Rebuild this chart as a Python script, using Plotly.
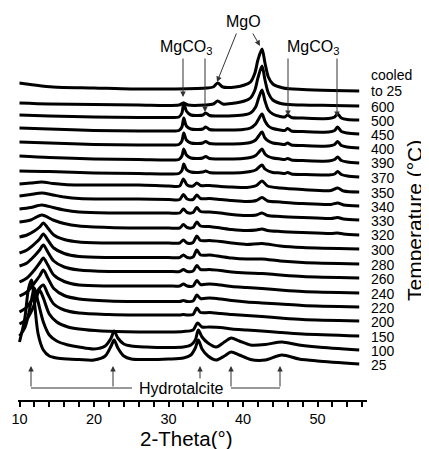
import plotly.graph_objects as go

# ---------------- data ----------------
temps = ["cooled<br>to 25", "600", "500", "450", "400", "390", "370", "350", "340",
         "330", "320", "300", "280", "260", "240", "220", "200", "150", "100", "25"]
# stacking level of each pattern (distance of its high-angle end from the top, px-units)
stack = [91, 106, 120, 134, 148, 163, 177, 192, 206, 220, 235, 249, 264, 278, 293,
         307, 321, 336, 350, 364]

tt_cooled = [10, 12, 14.5, 20, 25, 30, 35, 36.0, 36.6, 37.3, 39.0, 40.2, 41.0, 41.6, 42.0,
             42.55, 42.95, 43.4, 44.0, 45.4, 48, 52, 55.6]
i_cooled = [8, 6, 4, 3, 2, 2, 3, 4, 8, 4, 4, 6, 9, 18, 31, 42, 28, 14, 7, 3, 1.5, 0.5, 0]

tt_600 = [10, 14, 20, 26, 31.4, 32.0, 32.6, 35, 36.0, 36.6, 37.3, 39.0, 40.2, 41.0, 41.6,
          42.0, 42.55, 42.95, 43.4, 44.0, 45.4, 48, 52, 55.6]
i_600 = [3, 2, 1.5, 1, 1, 3, 1, 1, 2, 5, 2, 3, 5, 8, 16, 28, 40, 26, 13, 6, 2, 1, 0.5, 0]

tt_hi = [10, 14, 20, 26, 30, 31.4, 31.8, 32.05, 32.4, 33.0, 34.0, 34.6, 35.0, 35.5, 36.5,
         38.0, 40.0, 41.0, 41.7, 42.1, 42.55, 42.95, 43.4, 44.0, 45.0, 45.6, 46.0, 46.5,
         48, 51.5, 52.3, 52.7, 53.2, 54, 55.6]
i_500 = [5, 4, 3, 2.5, 2.5, 3, 7, 17, 9, 5, 4.5, 5, 7, 4.5, 4, 4, 5, 7, 13, 22, 30, 19, 10,
         6, 3.5, 3, 5, 2.5, 2, 1.5, 3, 6, 2, 0.5, 0]
i_450 = [6, 5, 3.5, 3, 3, 3.5, 7, 16, 8, 5, 4.5, 5, 7, 4.5, 4, 4, 4.5, 6, 10, 15, 20, 13, 8,
         5.5, 4, 3.5, 5.5, 3, 2.5, 2, 3.5, 7, 2.5, 1, 0]
i_400 = [6, 5, 3.5, 3, 3, 3.5, 7, 15, 8, 5, 4.5, 5, 6.5, 4.5, 4, 4, 4.5, 5.5, 8, 12, 16, 10,
         7, 5, 4, 3.5, 5, 3, 2.5, 2, 3.5, 6.5, 2.5, 1, 0]
i_390 = [7, 5.5, 4, 3.5, 3, 3.5, 7, 14, 8, 5, 4.5, 5, 6.5, 4.5, 4, 4, 4.5, 5.5, 7.5, 10.5,
         14, 9, 6.5, 5, 4, 3.5, 4.5, 3, 2.5, 2, 3.5, 6, 2.5, 1, 0]
i_370 = [6, 5.5, 4, 3.5, 3, 3.5, 6.5, 13, 7.5, 5, 4.5, 5, 6, 4.5, 4, 4, 4.5, 5.5, 7, 9.5,
         12, 8, 6, 4.5, 4, 3.5, 4.5, 3, 2.5, 2, 3, 5.5, 2.5, 1, 0]

tt_mid = [10, 11.5, 13.0, 14.5, 16, 18, 22, 26, 30, 31.5, 32.0, 32.5, 33.3, 33.8, 34.3,
          35.5, 37.0, 38.5, 40.5, 41.8, 42.55, 43.3, 45, 48, 51.8, 52.7, 53.5, 55.6]
i_350 = [8, 9, 10, 8.5, 7.5, 7, 7, 7, 6, 6, 13, 7, 6, 9, 6.5, 6.5, 5.5, 5, 4.5, 6.5, 11, 6,
         4, 2.5, 1.5, 4, 1, 0]
i_340 = [10, 11.5, 13, 11, 9, 7.5, 7, 7, 6.5, 6.5, 11.5, 7, 6.5, 11, 7.5, 7.5, 6.5, 5.5,
         4.5, 5.5, 8.5, 5, 4, 2.5, 1.5, 3, 1, 0]
i_330 = [11, 12.5, 15, 12.5, 10, 8, 7, 7, 7, 7, 11, 7.5, 7.5, 12.5, 8.5, 8, 7, 5.5, 4.5, 5,
         7, 4.5, 3.5, 2.5, 1.5, 2.5, 1, 0]
i_320 = [13, 15, 20, 15, 11.5, 9, 7.5, 7, 7, 7, 10.5, 7.5, 7.5, 13, 9, 8.5, 7, 5.5, 4.5, 5,
         6, 4.5, 3.5, 2.5, 1.5, 2, 1, 0]

tt_lm = [10, 11.0, 12.0, 12.7, 13.2, 13.8, 14.6, 16, 18, 22, 26, 30, 31.5, 32.0, 32.5,
         33.3, 33.8, 34.3, 35.5, 37.0, 38.5, 40.5, 42.55, 45, 48, 55.6]
i_300 = [12, 14, 18, 22, 26, 21, 14, 9.5, 7, 6, 6, 6, 6, 9, 6, 6.5, 13, 8.5, 8.5, 7.5, 6,
         4.5, 5.5, 3, 1.5, 0]
i_280 = [11, 14, 20, 25, 30, 24, 16, 10.5, 7.5, 6.5, 6.5, 6.5, 6.5, 9, 6.5, 7, 14, 9, 9,
         7.5, 6, 5, 5, 3, 1.5, 0]
i_260 = [12, 15, 22, 28, 33, 26, 17, 11, 8, 6.5, 6.5, 6.5, 6.5, 8.5, 6.5, 7, 12.5, 8.5,
         8.5, 7.5, 6, 5, 4.5, 3, 1.5, 0]
i_240 = [11, 15, 23, 30, 35, 28, 18, 11.5, 8, 7, 7, 7, 7, 9, 7, 7, 12.5, 8.5, 9, 8, 6.5,
         5.5, 4.5, 3, 1.5, 0]
i_220 = [11, 15, 24, 31, 37, 29, 18.5, 11.5, 8, 6, 5.5, 5.5, 5.5, 6.5, 5.5, 6, 12, 8.5, 9,
         8, 6.5, 5, 4, 3, 1.5, 0]
i_200 = [9, 14, 25, 33, 36, 27, 17, 11, 8, 6.5, 6, 6, 6, 6.5, 6, 6.5, 13, 8.5, 8.5, 7.5,
         6.5, 5.5, 4.5, 3, 1.5, 0]

tt_150 = [10, 11.0, 11.8, 12.3, 12.7, 13.2, 14.0, 15, 16.5, 18, 21, 26, 30, 32, 33.3,
          33.9, 34.5, 35.5, 37.0, 38.5, 40.5, 42.5, 45, 48, 55.6]
i_150 = [12, 17, 28, 39, 46, 38, 22, 14, 9, 7, 5, 4, 4, 4.5, 6, 13, 9, 9, 8.5, 7, 6, 5,
         3.5, 2, 0]

tt_low = [10, 10.7, 11.2, 11.6, 12.0, 12.5, 13.2, 14.0, 15, 16.5, 18, 20, 21.5, 22.3,
          22.7, 23.2, 24, 25, 27, 30, 32, 33.0, 33.6, 34.0, 34.5, 35.3, 36.4, 37.5, 38.4,
          39.5, 41, 43, 45.2, 47.5, 50, 55.6]
i_100 = [14, 22, 35, 50, 62, 48, 28, 15, 9, 5, 3, 1, 4, 12, 19, 12, 6, 4, 3, 2.5, 3, 5, 10,
         20, 13, 7, 3, 8, 12, 9, 5, 5.5, 8, 5, 3, 0]
i_25 = [22, 45, 75, 84, 62, 30, 14, 8, 6, 5, 4.5, 4, 8, 18, 24, 16, 8, 5, 4.5, 5, 6, 9, 16,
        24, 15, 8, 4, 8, 12, 9, 4.5, 4, 9, 5, 3, 0]

patterns = [(tt_cooled, i_cooled), (tt_600, i_600), (tt_hi, i_500), (tt_hi, i_450),
            (tt_hi, i_400), (tt_hi, i_390), (tt_hi, i_370), (tt_mid, i_350),
            (tt_mid, i_340), (tt_mid, i_330), (tt_mid, i_320), (tt_lm, i_300),
            (tt_lm, i_280), (tt_lm, i_260), (tt_lm, i_240), (tt_lm, i_220),
            (tt_lm, i_200), (tt_150, i_150), (tt_low, i_100), (tt_low, i_25)]

# ---------------- geometry helpers (layout only) ----------------
# page body has an 8px margin; figure is sized so the plot lands on the reference pixels
OFF = 8
PL, PR, PT, PB = 18, 367, 8, 400      # plot-area edges in page pixels
PX10, PXDEG = 19.5, 7.45
def X(px):
    return 10 + (px - PX10) / PXDEG
def Y(py):
    return 400 - py
def XP(px):
    return (px - PL) / (PR - PL)
def YP(py):
    return (PB - py) / (PB - PT)

FONT = "Liberation Sans, Arial, Helvetica, sans-serif"

fig = go.Figure()
for (tt, inten), s in zip(patterns, stack):
    base = 400 - s
    fig.add_trace(go.Scatter(x=tt, y=[base + v for v in inten], mode="lines",
                             line=dict(color="black", width=3, shape="spline",
                                       smoothing=0.8),
                             hoverinfo="skip"))

ann = []
# temperature labels
LBL = dict(size=14)
for t, s in zip(temps, stack):
    if "<br>" in t:
        l1, l2 = t.split("<br>")
        ann.append(dict(xref="paper", yref="paper", x=XP(369), y=YP(s - 16), text=l1,
                        xanchor="left", yanchor="middle", showarrow=False, font=LBL))
        ann.append(dict(xref="paper", yref="paper", x=XP(369), y=YP(s), text=l2,
                        xanchor="left", yanchor="middle", showarrow=False, font=LBL))
    else:
        ann.append(dict(xref="paper", yref="paper", x=XP(369), y=YP(s + 0.5), text=t,
                        xanchor="left", yanchor="middle", showarrow=False, font=LBL))

# phase labels
ann.append(dict(x=X(243), y=Y(21), text="MgO", showarrow=False, font=dict(size=16),
                xanchor="center", yanchor="middle"))
ann.append(dict(x=X(186), y=Y(47), text="MgCO<sub>3</sub>", showarrow=False,
                font=dict(size=16), xanchor="center", yanchor="middle"))
ann.append(dict(x=X(313), y=Y(47), text="MgCO<sub>3</sub>", showarrow=False,
                font=dict(size=16), xanchor="center", yanchor="middle"))
ann.append(dict(x=X(181), y=Y(388), text="Hydrotalcite", showarrow=False,
                font=dict(size=16), xanchor="center", yanchor="middle"))

# axis titles
ann.append(dict(xref="paper", yref="paper", x=XP(186), y=YP(438), text="2-Theta(°)",
                showarrow=False, font=dict(size=20.5), xanchor="center",
                yanchor="middle"))
ann.append(dict(xref="paper", yref="paper", x=XP(414), y=YP(221),
                text="Temperature (°C)", showarrow=False, textangle=-90,
                font=dict(size=21), xanchor="center", yanchor="middle"))

# arrows: (tail px, tip px)
arrows = [((237, 32), (217, 82)), ((252, 32), (260, 46)),
          ((183, 57), (183, 97)), ((205, 57), (205, 112)),
          ((288, 57), (288, 116)), ((337, 57), (337, 117)),
          ((31, 388), (31, 366)), ((113, 388), (113, 366)), ((200, 380), (200, 366)),
          ((231, 388), (231, 366)), ((280, 388), (280, 366))]
for (tx, ty), (hx, hy) in arrows:
    ann.append(dict(x=X(hx), y=Y(hy), ax=tx - hx, ay=ty - hy, text="", showarrow=True,
                    arrowhead=2, arrowsize=1.1, arrowwidth=1, arrowcolor="#333"))

shapes = [dict(type="line", x0=X(31), x1=X(132), y0=Y(388), y1=Y(388),
               line=dict(color="#333", width=1)),
          dict(type="line", x0=X(231), x1=X(280), y0=Y(388), y1=Y(388),
               line=dict(color="#333", width=1))]

fig.update_layout(
    width=429 - OFF, height=449 - OFF,
    margin=dict(l=PL - OFF, r=429 - PR, t=PT - OFF, b=449 - PB),
    plot_bgcolor="white", paper_bgcolor="white", showlegend=False,
    font=dict(family=FONT, color="black"),
    annotations=ann, shapes=shapes,
    xaxis=dict(range=[X(PL), X(PR)], tickvals=[10, 20, 30, 40, 50], ticks="outside",
               ticklen=5, tickwidth=1.5, tickcolor="black", showline=True,
               linecolor="black", linewidth=1.5, showgrid=False, zeroline=False,
               tickfont=dict(size=14.5),
               minor=dict(dtick=2, tick0=10, ticks="outside", ticklen=5, tickwidth=1.5,
                          tickcolor="black", showgrid=False)),
    yaxis=dict(range=[Y(PB), Y(PT)], visible=False, fixedrange=True),
)

fig.write_html("out.html")
